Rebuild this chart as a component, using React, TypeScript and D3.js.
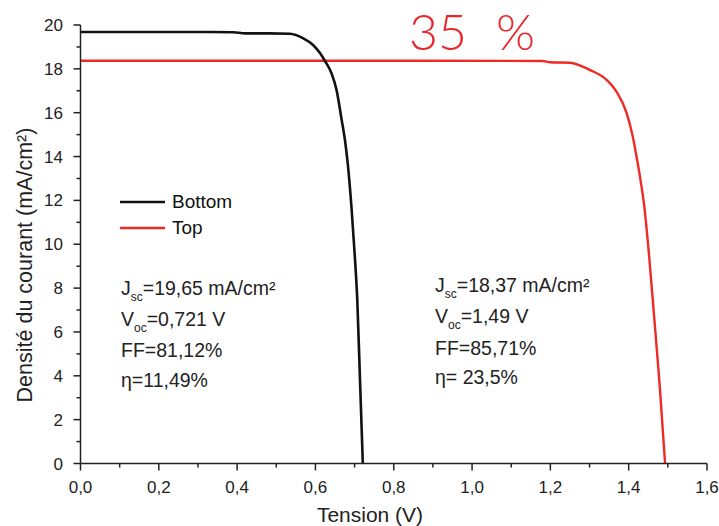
import React from "react";
import * as d3 from "d3";

const xTicks = [0, 0.2, 0.4, 0.6, 0.8, 1.0, 1.2, 1.4, 1.6];
const xMinor = [0.1, 0.3, 0.5, 0.7, 0.9, 1.1, 1.3, 1.5];
const yTicks = [0, 2, 4, 6, 8, 10, 12, 14, 16, 18, 20];
const yMinor = [1, 3, 5, 7, 9, 11, 13, 15, 17, 19];

const bottomV = [0, 0.1, 0.2, 0.3, 0.39, 0.42, 0.48, 0.535, 0.569, 0.594, 0.612, 0.624, 0.641, 0.654, 0.667, 0.675, 0.683, 0.692, 0.7, 0.707, 0.714, 0.721];
const bottomJ = [19.68, 19.68, 19.68, 19.68, 19.67, 19.62, 19.62, 19.6, 19.39, 19.09, 18.71, 18.37, 17.8, 17.03, 15.67, 14.8, 13.6, 11.7, 9.6, 7.4, 3.7, 0];

const topV = [0, 0.3, 0.6, 0.9, 1.18, 1.199, 1.25, 1.301, 1.344, 1.369, 1.395, 1.41, 1.42, 1.43, 1.44, 1.452, 1.465, 1.479, 1.493];
const topJ = [18.37, 18.37, 18.37, 18.37, 18.36, 18.3, 18.28, 17.95, 17.49, 16.96, 15.97, 14.95, 14.0, 12.95, 11.7, 9.5, 6.7, 3.6, 0];

const seriesNames = ["Bottom", "Top"];
const seriesColors = ["#111111", "#ee2a24"];

const bottomStats = ["=19,65 mA/cm²", "=0,721 V", "FF=81,12%", "η=11,49%"];
const topStats = ["=18,37 mA/cm²", "=1,49 V", "FF=85,71%", "η= 23,5%"];

const W = 719;
const H = 526;
const FONT = "'Liberation Sans', Arial, sans-serif";

export default function App() {
  const x = d3.scaleLinear().domain([0, 1.6]).range([80.5, 707]);
  const y = d3.scaleLinear().domain([0, 20]).range([463.5, 25]);
  const line = d3
    .line<[number, number]>()
    .x((d) => x(d[0]))
    .y((d) => y(d[1]))
    .curve(d3.curveMonotoneX);
  const bottomData = bottomV.map((v, i) => [v, bottomJ[i]] as [number, number]);
  const topData = topV.map((v, i) => [v, topJ[i]] as [number, number]);

  const statBlock = (sx: number, baselines: number[], stats: string[]) => (
    <g fontFamily={FONT} fontSize={19.5} fill="#222">
      <text x={sx} y={baselines[0]}>
        J<tspan fontSize={12} dy={6}>sc</tspan>
        <tspan dy={-6}>{stats[0]}</tspan>
      </text>
      <text x={sx} y={baselines[1]}>
        V<tspan fontSize={12} dy={6}>oc</tspan>
        <tspan dy={-6}>{stats[1]}</tspan>
      </text>
      <text x={sx} y={baselines[2]}>{stats[2]}</text>
      <text x={sx} y={baselines[3]}>{stats[3]}</text>
    </g>
  );

  return (
    <svg
      width={W}
      height={H}
      style={{ position: "absolute", left: 0, top: 0, background: "#fff" }}
    >
      <rect x={0} y={0} width={W} height={H} fill="#fff" />
      {/* curves */}
      <path d={line(topData) || ""} fill="none" stroke={seriesColors[1]} strokeWidth={2.4} />
      <path d={line(bottomData) || ""} fill="none" stroke={seriesColors[0]} strokeWidth={2.6} />

      {/* axes */}
      <g stroke="#222" strokeWidth={1.5}>
        <line x1={x(0)} x2={x(0)} y1={y(20)} y2={y(0)} />
        <line x1={x(0)} x2={x(1.6)} y1={y(0)} y2={y(0)} />
        {xTicks.map((t) => (
          <line key={"xt" + t} x1={x(t)} x2={x(t)} y1={y(0)} y2={y(0) + 7} />
        ))}
        {xMinor.map((t) => (
          <line key={"xm" + t} x1={x(t)} x2={x(t)} y1={y(0)} y2={y(0) + 4} />
        ))}
        {yTicks.map((t) => (
          <line key={"yt" + t} x1={x(0) - 7} x2={x(0)} y1={y(t)} y2={y(t)} />
        ))}
        {yMinor.map((t) => (
          <line key={"ym" + t} x1={x(0) - 4} x2={x(0)} y1={y(t)} y2={y(t)} />
        ))}
      </g>
      <g fontFamily={FONT} fontSize={17} fill="#222">
        {xTicks.map((t) => (
          <text key={"xl" + t} x={x(t)} y={493} textAnchor="middle">
            {t.toFixed(1).replace(".", ",")}
          </text>
        ))}
        {yTicks.map((t) => (
          <text key={"yl" + t} x={63} y={y(t) + 6} textAnchor="end">
            {t}
          </text>
        ))}
      </g>
      <text x={370} y={522} textAnchor="middle" fontFamily={FONT} fontSize={21} fill="#222">
        Tension (V)
      </text>
      <text
        transform="translate(32,265) rotate(-90)"
        textAnchor="middle"
        fontFamily={FONT}
        fontSize={21.5}
        fill="#222"
      >
        Densité du courant (mA/cm²)
      </text>

      {/* legend */}
      {seriesNames.map((n, i) => (
        <g key={n}>
          <line x1={120} x2={165} y1={202 + i * 26} y2={202 + i * 26} stroke={seriesColors[i]} strokeWidth={2.6} />
          <text x={172} y={208 + i * 26} fontFamily={FONT} fontSize={19} fill="#111">
            {n}
          </text>
        </g>
      ))}

      {statBlock(121, [295, 326, 357, 387], bottomStats)}
      {statBlock(435, [292, 323, 355, 384], topStats)}

      <text y={50} fontFamily="Lato, 'DejaVu Sans', sans-serif" fontWeight={300} fontSize={50} fill="#e8262b">
        <tspan x={409}>35 </tspan>
        <tspan x={496}>%</tspan>
      </text>
    </svg>
  );
}
